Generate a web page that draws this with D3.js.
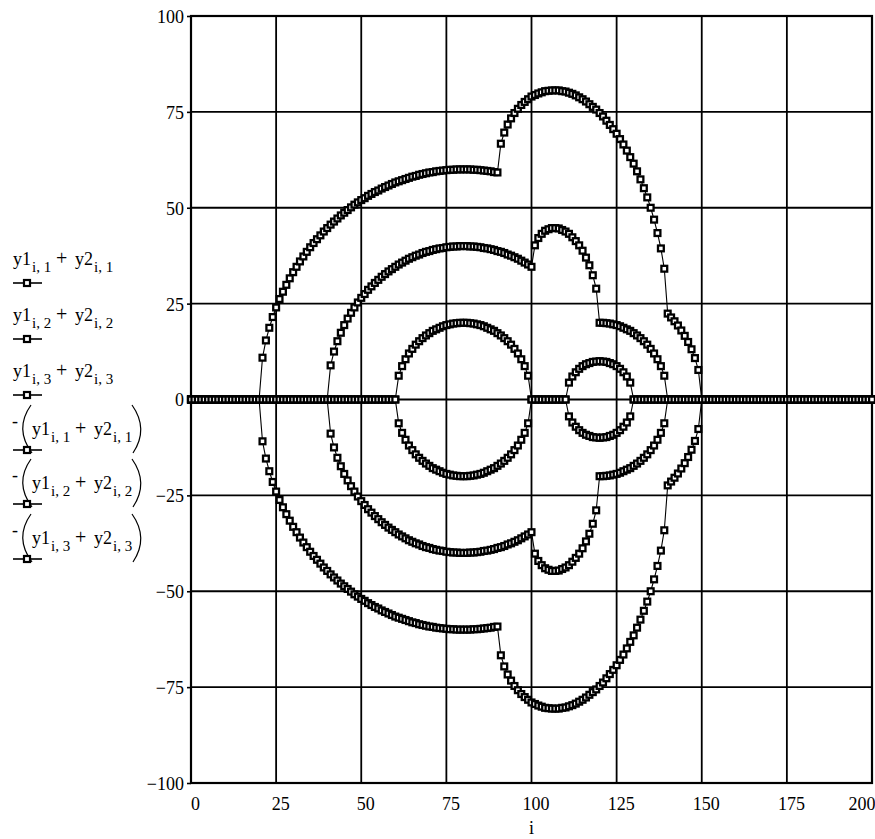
<!DOCTYPE html>
<html>
<head>
<meta charset="utf-8">
<script src="https://cdn.jsdelivr.net/npm/d3@7"></script>
<style>
  body { margin: 0; background: #fff; }
  svg text { font-family: "Liberation Serif", "Times New Roman", serif !important; fill: #000; }
</style>
</head>
<body>
<svg id="chart" width="875" height="839"></svg>
<script>
// Index range and axis ticks
const iFirst = 0, iLast = 200;
const xTicks = [0, 25, 50, 75, 100, 125, 150, 175, 200];
const yTicks = [-100, -75, -50, -25, 0, 25, 50, 75, 100];

// y1 columns: values for the listed run of i, zero elsewhere
const y1Col1Start = 20;
const y1Col1 = [0, 10.9, 15.4, 18.7, 21.5, 24.0, 26.2, 28.1, 29.9, 31.6, 33.2, 34.6, 36.0, 37.3, 38.5, 39.7,
  40.8, 41.8, 42.8, 43.8, 44.7, 45.6, 46.4, 47.2, 48.0, 48.7, 49.4, 50.1, 50.8, 51.4, 52.0, 52.5, 53.1, 53.6,
  54.1, 54.5, 55.0, 55.4, 55.8, 56.2, 56.6, 56.9, 57.2, 57.5, 57.8, 58.1, 58.3, 58.6, 58.8, 59.0, 59.2, 59.3,
  59.5, 59.6, 59.7, 59.8, 59.9, 59.9, 60.0, 60.0,
  60,
  60.0, 60.0, 59.9, 59.9, 59.8, 59.7, 59.6, 59.5, 59.3, 59.2, 59.0, 58.8, 58.6, 58.3, 58.1, 57.8, 57.5, 57.2,
  56.9, 56.6, 56.2, 55.8, 55.4, 55.0, 54.5, 54.1, 53.6, 53.1, 52.5, 52.0, 51.4, 50.8, 50.1, 49.4, 48.7, 48.0,
  47.2, 46.4, 45.6, 44.7, 43.8, 42.8, 41.8, 40.8, 39.7, 38.5, 37.3, 36.0, 34.6, 33.2, 31.6, 29.9, 28.1, 26.2,
  24.0, 21.5, 18.7, 15.4, 10.9, 0];

const y1Col2Start = 40;
const y1Col2 = [0, 8.9, 12.5, 15.2, 17.4, 19.4, 21.1, 22.6, 24.0, 25.3, 26.5, 27.5, 28.6, 29.5, 30.4, 31.2,
  32.0, 32.7, 33.4, 34.0, 34.6, 35.2, 35.7, 36.2, 36.7, 37.1, 37.5, 37.8, 38.2, 38.5, 38.7, 39.0, 39.2, 39.4,
  39.5, 39.7, 39.8, 39.9, 39.9, 40.0,
  40,
  40.0, 39.9, 39.9, 39.8, 39.7, 39.5, 39.4, 39.2, 39.0, 38.7, 38.5, 38.2, 37.8, 37.5, 37.1, 36.7, 36.2, 35.7,
  35.2, 34.6, 34.0, 33.4, 32.7, 32.0, 31.2, 30.4, 29.5, 28.6, 27.5, 26.5, 25.3, 24.0, 22.6, 21.1, 19.4, 17.4,
  15.2, 12.5, 8.9, 0];

const y1Col3Start = 60;
const y1Col3 = [0, 6.2, 8.7, 10.5, 12.0, 13.2, 14.3, 15.2, 16.0, 16.7, 17.3, 17.9, 18.3, 18.7, 19.1, 19.4,
  19.6, 19.8, 19.9, 20.0,
  20,
  20.0, 19.9, 19.8, 19.6, 19.4, 19.1, 18.7, 18.3, 17.9, 17.3, 16.7, 16.0, 15.2, 14.3, 13.2, 12.0, 10.5, 8.7,
  6.2, 0];

// y2 columns
const y2Col1Start = 90;
const y2Col1 = [0, 7.7, 10.8, 13.1, 15.0, 16.6, 18.0, 19.3, 20.4, 21.4, 22.4, 23.2, 24.0, 24.7, 25.4, 26.0,
  26.5, 27.0, 27.5, 27.9, 28.3, 28.6, 28.9, 29.2, 29.4, 29.6, 29.7, 29.8, 29.9, 30.0,
  30,
  30.0, 29.9, 29.8, 29.7, 29.6, 29.4, 29.2, 28.9, 28.6, 28.3, 27.9, 27.5, 27.0, 26.5, 26.0, 25.4, 24.7, 24.0,
  23.2, 22.4, 21.4, 20.4, 19.3, 18.0, 16.6, 15.0, 13.1, 10.8, 7.7, 0];

const y2Col2Start = 100;
const y2Col2 = [0, 6.2, 8.7, 10.5, 12.0, 13.2, 14.3, 15.2, 16.0, 16.7, 17.3, 17.9, 18.3, 18.7, 19.1, 19.4,
  19.6, 19.8, 19.9, 20.0,
  20,
  20.0, 19.9, 19.8, 19.6, 19.4, 19.1, 18.7, 18.3, 17.9, 17.3, 16.7, 16.0, 15.2, 14.3, 13.2, 12.0, 10.5, 8.7,
  6.2, 0];

const y2Col3Start = 110;
const y2Col3 = [0, 4.4, 6.0, 7.1, 8.0, 8.7, 9.2, 9.5, 9.8, 9.9, 10, 9.9, 9.8, 9.5, 9.2, 8.7, 8.0, 7.1, 6.0, 4.4, 0];

// Column lookup: zero outside the stored run
function colValue(start, arr, i) {
  const k = i - start;
  return (k >= 0 && k < arr.length) ? arr[k] : 0;
}

const columns = [
  { n: 1, y1: [y1Col1Start, y1Col1], y2: [y2Col1Start, y2Col1] },
  { n: 2, y1: [y1Col2Start, y1Col2], y2: [y2Col2Start, y2Col2] },
  { n: 3, y1: [y1Col3Start, y1Col3], y2: [y2Col3Start, y2Col3] }
];

const iValues = d3.range(iFirst, iLast + 1);

// Six traces: y1+y2 for each column, then their negatives
const traces = [];
[1, -1].forEach(sign => {
  columns.forEach(c => {
    traces.push({
      n: c.n,
      neg: sign < 0,
      points: iValues.map(i => ({
        i,
        v: sign * (colValue(c.y1[0], c.y1[1], i) + colValue(c.y2[0], c.y2[1], i))
      }))
    });
  });
});

const svg = d3.select("#chart");
const x = d3.scaleLinear().domain([0, 200]).range([191, 872]);
const y = d3.scaleLinear().domain([-100, 100]).range([783, 16]);

// Grid
const grid = svg.append("g");
grid.selectAll("line.gx").data(xTicks.slice(1, -1)).join("line")
  .attr("class", "gx")
  .attr("x1", d => x(d)).attr("x2", d => x(d))
  .attr("y1", y(-100)).attr("y2", y(100))
  .attr("stroke", "#000").attr("stroke-width", 1.8);
grid.selectAll("line.gy").data(yTicks.slice(1, -1)).join("line")
  .attr("class", "gy")
  .attr("x1", x(0)).attr("x2", x(200))
  .attr("y1", d => y(d)).attr("y2", d => y(d))
  .attr("stroke", "#000").attr("stroke-width", 1.8);

// Axes (labels and small outer ticks)
const yAxis = svg.append("g")
  .attr("transform", `translate(${x(0)},0)`)
  .call(d3.axisLeft(y).tickValues(yTicks).tickSize(4).tickPadding(3).tickFormat(d3.format("d")));
yAxis.attr("font-family", null);
yAxis.select(".domain").remove();
yAxis.selectAll(".tick line").attr("stroke", "#000").attr("stroke-width", 1.6);
yAxis.selectAll(".tick text")
  .attr("font-size", 18)
  .attr("dy", "0.36em");

const xAxis = svg.append("g")
  .attr("transform", `translate(0,${y(-100)})`)
  .call(d3.axisBottom(x).tickValues(xTicks).tickSize(0).tickPadding(14).tickFormat(d3.format("d")));
xAxis.attr("font-family", null);
xAxis.select(".domain").remove();
xAxis.selectAll(".tick text")
  .attr("font-size", 18)
  .attr("dx", 4);
xAxis.selectAll(".tick").filter(d => d === 200).select("text")
  .attr("text-anchor", "end").attr("dx", 3);

// Plot border
svg.append("rect")
  .attr("x", x(0)).attr("y", y(100))
  .attr("width", x(200) - x(0)).attr("height", y(-100) - y(100))
  .attr("fill", "none").attr("stroke", "#000").attr("stroke-width", 2.2);

// Axis title
svg.append("text")
  .attr("x", (x(0) + x(200)) / 2).attr("y", 834)
  .attr("text-anchor", "middle").attr("font-size", 18)
  .text("i");

// Traces: thin connecting line plus hollow square markers
const line = d3.line().x(d => x(d.i)).y(d => y(d.v));
const mk = 5.8;
const plot = svg.append("g");
traces.forEach(t => {
  const g = plot.append("g");
  g.append("path").datum(t.points)
    .attr("d", line)
    .attr("fill", "none").attr("stroke", "#000").attr("stroke-width", 1.1);
  g.selectAll("rect").data(t.points).join("rect")
    .attr("x", d => x(d.i) - mk / 2).attr("y", d => y(d.v) - mk / 2)
    .attr("width", mk).attr("height", mk)
    .attr("fill", "#fff").attr("stroke", "#000").attr("stroke-width", 2.3);
});

// Legend
const legendRows = [283, 339, 395, 450, 504, 559];
const legend = svg.append("g");
traces.forEach((t, k) => {
  const my = legendRows[k];
  const g = legend.append("g");
  const base = t.neg ? my - 15 : my - 18;
  const off = t.neg ? 19 : 0;
  const sub = String(t.n);
  const piece = (tx, ty, str, size) => g.append("text")
    .attr("x", tx).attr("y", ty).attr("font-size", size)
    .attr("xml:space", "preserve").text(str);
  if (t.neg) {
    piece(12, base - 8, "-", 18);
    g.append("path")
      .attr("d", `M31,${my - 45} Q14,${my - 21} 32,${my + 3}`)
      .attr("fill", "none").attr("stroke", "#000").attr("stroke-width", 1.2);
    g.append("path")
      .attr("d", `M132,${my - 45} Q149,${my - 21} 133,${my + 3}`)
      .attr("fill", "none").attr("stroke", "#000").attr("stroke-width", 1.2);
  }
  piece(13 + off, base, "y1", 18);
  piece(32 + off, base + 7, "i, " + sub, 15);
  piece(56 + off, base, "+", 20);
  piece(75 + off, base, "y2", 18);
  piece(94 + off, base + 7, "i, " + sub, 15);
  g.append("line")
    .attr("x1", 13).attr("x2", 42).attr("y1", my).attr("y2", my)
    .attr("stroke", "#000").attr("stroke-width", 1.6);
  g.append("rect")
    .attr("x", 27 - 3).attr("y", my - 3).attr("width", 6).attr("height", 6)
    .attr("fill", "#fff").attr("stroke", "#000").attr("stroke-width", 2.2);
});
</script>
</body>
</html>
